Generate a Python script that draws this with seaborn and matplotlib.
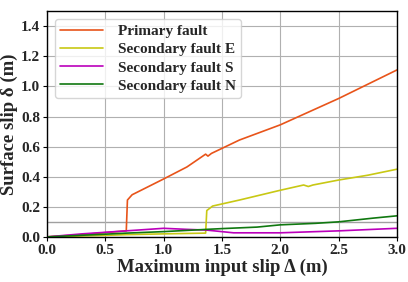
import numpy as np
import pandas as pd
import matplotlib
matplotlib.use('Agg')
import matplotlib.pyplot as plt
import seaborn as sns

# values
primary_x = [0.0, 0.3, 0.6, 0.68, 0.69, 0.73, 1.0, 1.2, 1.36, 1.38, 1.41, 1.65, 2.0, 2.5, 3.0]
primary_y = [0.0, 0.015, 0.035, 0.04, 0.245, 0.28, 0.385, 0.465, 0.55, 0.537, 0.555, 0.644, 0.745, 0.92, 1.11]

sec_e_x = [0.0, 0.5, 0.68, 1.0, 1.36, 1.37, 1.42, 1.65, 2.0, 2.2, 2.24, 2.28, 2.5, 2.75, 3.0]
sec_e_y = [0.0, 0.01, 0.015, 0.02, 0.025, 0.175, 0.205, 0.245, 0.31, 0.345, 0.335, 0.345, 0.378, 0.41, 0.45]

sec_s_x = [0.0, 0.3, 0.68, 1.0, 1.2, 1.37, 1.6, 2.0, 2.5, 3.0]
sec_s_y = [0.0, 0.02, 0.04, 0.057, 0.05, 0.045, 0.027, 0.027, 0.04, 0.057]

sec_n_x = [0.0, 0.5, 0.68, 1.0, 1.37, 1.5, 1.8, 2.0, 2.3, 2.5, 2.8, 3.0]
sec_n_y = [0.0, 0.018, 0.025, 0.035, 0.05, 0.055, 0.065, 0.08, 0.09, 0.10, 0.125, 0.14]

series = [
    ('Primary fault', primary_x, primary_y, '#e8541a'),
    ('Secondary fault E', sec_e_x, sec_e_y, '#c8c814'),
    ('Secondary fault S', sec_s_x, sec_s_y, '#bb00bb'),
    ('Secondary fault N', sec_n_x, sec_n_y, '#107810'),
]

sns.set_style('whitegrid', {'axes.edgecolor': 'black', 'grid.color': '#b0b0b0'})
plt.rcParams['font.family'] = ['Liberation Serif', 'DejaVu Serif']
plt.rcParams['font.weight'] = 'bold'

fig, ax = plt.subplots(figsize=(4.08, 2.82), dpi=100)
for name, xs, ys, col in series:
    df = pd.DataFrame({'x': xs, 'y': ys})
    sns.lineplot(data=df, x='x', y='y', ax=ax, color=col, label=name, linewidth=1.2, sort=False)

ax.axhline(0.1, color='#a0a0a0', linewidth=1.0, zorder=0)
ax.set_xlim(0, 3)
ax.set_ylim(0, 1.5)
ax.set_xticks(np.arange(0, 3.01, 0.5))
ax.set_yticks(np.arange(0, 1.41, 0.2))
ax.tick_params(labelsize=11, length=3, color='black', left=True, bottom=True, pad=2)
for lab in ax.get_xticklabels() + ax.get_yticklabels():
    lab.set_fontweight('bold')
ax.set_xlabel('Maximum input slip Δ (m)', fontsize=13.5, fontweight='bold', labelpad=1)
ax.set_ylabel('Surface slip δ (m)', fontsize=13.5, fontweight='bold', labelpad=2)
for sp in ax.spines.values():
    sp.set_linewidth(1.0)
    sp.set_color('black')
leg = ax.legend(loc='upper left', fontsize=11, frameon=True, handlelength=2.8,
                borderpad=0.35, labelspacing=0.3, handletextpad=1.0)
for t in leg.get_texts():
    t.set_fontweight('bold')

plt.subplots_adjust(left=0.115, right=0.973, bottom=0.16, top=0.96)
plt.savefig('out.png', dpi=100)
